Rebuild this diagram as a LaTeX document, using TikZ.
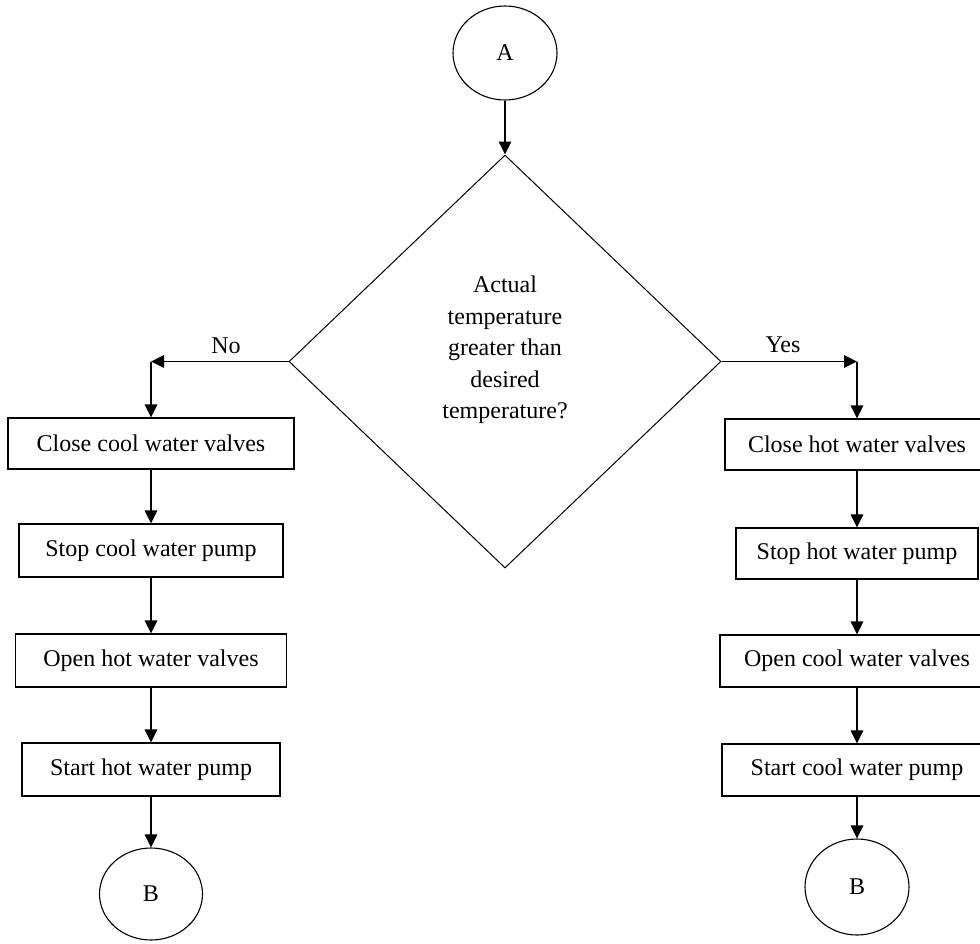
\documentclass[tikz,border=0pt]{standalone}
\usepackage{fontspec}
\setmainfont{Liberation Serif}
\usetikzlibrary{arrows.meta,shapes.geometric}
\begin{document}
\begin{tikzpicture}[x=1pt,y=-1pt,
  every node/.style={font=\fontsize{24}{31.5}\selectfont},
  procbox/.style={draw, line width=1.3pt, rectangle, inner sep=0pt},
  conn/.style={draw, ellipse, line width=1.1pt, inner sep=0pt},
  arr/.style={line width=1.6pt, -{Triangle[length=13pt,width=12.5pt]}}
  ]
\useasboundingbox (0,0) rectangle (980,943);
% start connector and decision
\node[conn, minimum width=104pt, minimum height=94pt] (A) at (505,53) {A};
\node[draw, diamond, minimum width=432pt, minimum height=413pt, inner sep=0pt, line width=1pt] (dia) at (505,361.5) {};
\node[align=center] (q) at (505,350) {Actual\\temperature\\greater than\\desired\\temperature?};
% left column
\node[procbox, minimum width=286pt, minimum height=51pt] (b1) at (151,443.5) {Close cool water valves};
\node[procbox, minimum width=264pt, minimum height=53pt] (b2) at (151,550.5) {Stop cool water pump};
\node[procbox, minimum width=271pt, minimum height=53pt] (b3) at (151,660.5) {Open hot water valves};
\node[procbox, minimum width=258pt, minimum height=53pt] (b4) at (151,769.5) {Start hot water pump};
\node[conn, minimum width=103pt, minimum height=92pt] (B1) at (151,894) {B};
% right column
\node[procbox, minimum width=264pt, minimum height=51pt] (c1) at (857,444.5) {Close hot water valves};
\node[procbox, minimum width=242pt, minimum height=51pt] (c2) at (857,553.5) {Stop hot water pump};
\node[procbox, minimum width=274pt, minimum height=52pt] (c3) at (857,661) {Open cool water valves};
\node[procbox, minimum width=270pt, minimum height=52pt] (c4) at (857,770) {Start cool water pump};
\node[conn, minimum width=104pt, minimum height=96pt] (B2) at (857,887) {B};
% labels
\node (no) at (226,346) {No};
\node (yes) at (783,345) {Yes};
% connectors
\coordinate (nl) at (dia.west -| b1.north);
\coordinate (yr) at (dia.east -| c1.north);
\draw[arr] (A.south) -- (dia.north);
\draw[arr] (dia.west) -- (nl);
\draw[arr] (nl) -- (b1.north);
\draw[arr] (dia.east) -- (yr);
\draw[arr] (yr) -- (c1.north);
\draw[arr] (b1.south) -- (b2.north);
\draw[arr] (b2.south) -- (b3.north);
\draw[arr] (b3.south) -- (b4.north);
\draw[arr] (b4.south) -- (B1.north);
\draw[arr] (c1.south) -- (c2.north);
\draw[arr] (c2.south) -- (c3.north);
\draw[arr] (c3.south) -- (c4.north);
\draw[arr] (c4.south) -- (B2.north);
\end{tikzpicture}
\end{document}
